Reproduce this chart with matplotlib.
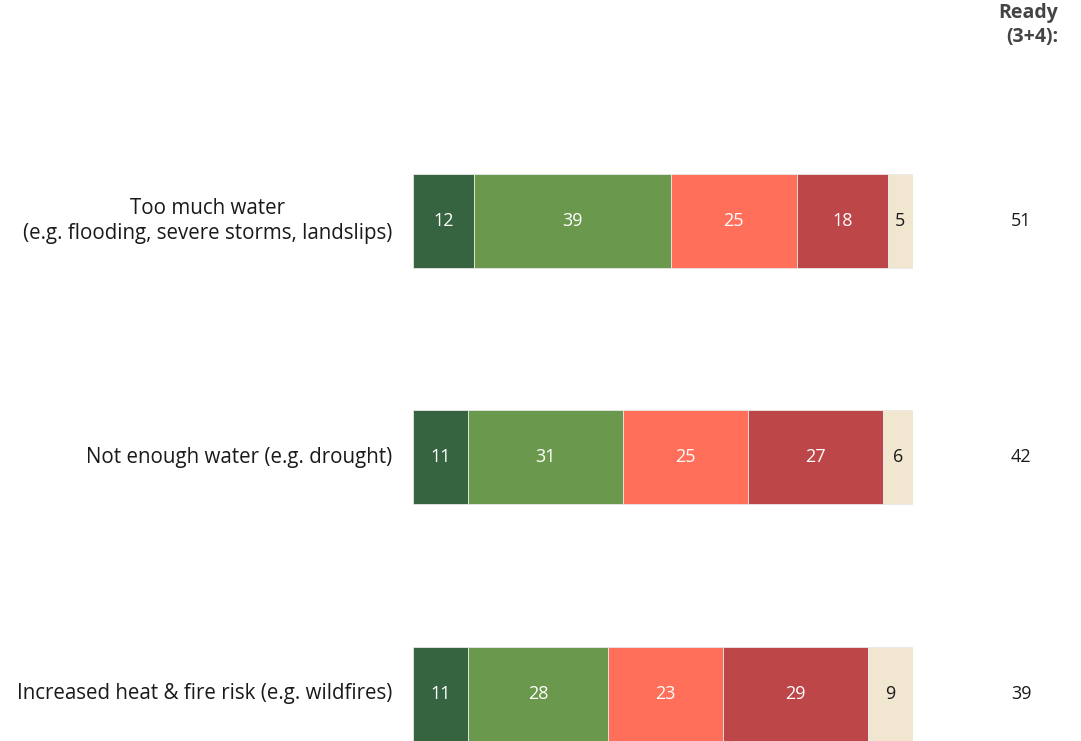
import matplotlib.pyplot as plt
import numpy as np

plt.rcParams["font.family"] = ["Open Sans", "DejaVu Sans"]

# ── Data ──────────────────────────────────────────────────────────────────────
categories = [
    "Too much water\n(e.g. flooding, severe storms, landslips)",
    "Not enough water (e.g. drought)",
    "Increased heat & fire risk (e.g. wildfires)",
]
seg1 = [12, 11, 11]
seg2 = [39, 31, 28]
seg3 = [25, 25, 23]
seg4 = [18, 27, 29]
seg5 = [5, 6, 9]
ready = [51, 42, 39]

COLORS = ["#366440", "#6A984C", "#FF6F5A", "#BC4648", "#F1E6D0"]
TEXT_COLORS = ["white", "white", "white", "white", "#1a1a1a"]

segments = np.array([seg1, seg2, seg3, seg4, seg5], dtype=float)
totals = segments.sum(axis=0)
widths = segments / totals * 100  # each bar spans the full width

# ── Figure ────────────────────────────────────────────────────────────────────
fig = plt.figure(figsize=(10.81, 7.41), dpi=100)
ax = fig.add_axes([413 / 1081, 0, 500 / 1081, 1])

y = np.arange(len(categories))
bar_h = 0.397
left = np.zeros(len(categories))
for i in range(len(segments)):
    ax.barh(y, widths[i], left=left, height=bar_h, color=COLORS[i],
            edgecolor="#e8e8e8", linewidth=0.6)
    for j in range(len(categories)):
        ax.text(left[j] + widths[i][j] / 2, y[j], f"{int(segments[i][j])}",
                ha="center", va="center", fontsize=13, color=TEXT_COLORS[i])
    left += widths[i]

ax.set_xlim(0, 100)
ax.set_ylim(2.199, -0.934)
ax.axis("off")

# Category labels on the left
for j, cat in enumerate(categories):
    ax.text(-4.2, y[j], cat, ha="right", va="center", ma="center",
            fontsize=14.8, color="#1a1a1a", linespacing=1.3)

# Ready (3+4) column
for j, val in enumerate(ready):
    ax.text(121.6, y[j], f"{val}", ha="center", va="center", fontsize=13,
            color="#1a1a1a")
fig.text(1058 / 1081, 1 - 3 / 741, "Ready\n(3+4):", ha="right", va="top",
         ma="right", fontsize=14, fontweight="bold", color="#444444",
         linespacing=1.25)

plt.savefig("out.png", dpi=100, facecolor="white")
